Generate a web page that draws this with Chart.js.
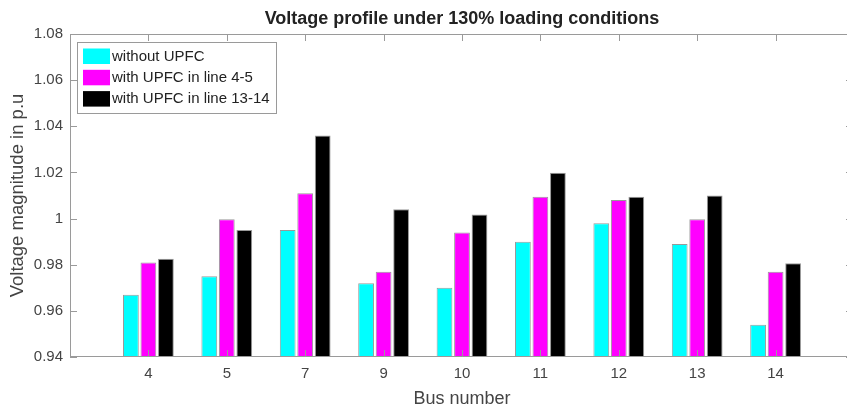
<!DOCTYPE html>
<html>
<head>
<meta charset="utf-8">
<script src="https://cdn.jsdelivr.net/npm/chart.js@4"></script>
<style>
  html, body { margin: 0; padding: 0; background: #fff; overflow: hidden; }
  /* the source figure is cropped a few px short of the right axis line */
  #wrap { width: 847px; height: 410px; overflow: hidden; }
</style>
</head>
<body>
<div id="wrap"><canvas id="voltageChart" width="855" height="410"></canvas></div>
<script>
const buses = ['4', '5', '7', '9', '10', '11', '12', '13', '14'];
const withoutUpfc = [0.967, 0.975, 0.995, 0.972, 0.970, 0.990, 0.998, 0.989, 0.954];
const upfcLine45 = [0.981, 0.9997, 1.011, 0.977, 0.994, 1.0095, 1.008, 0.9997, 0.977];
const upfcLine1314 = [0.9826, 0.995, 1.036, 1.004, 1.0018, 1.0199, 1.0095, 1.010, 0.9806];
const yTicks = [0.94, 0.96, 0.98, 1, 1.02, 1.04, 1.06, 1.08];

// pad one empty slot each side so the axis runs half a group past the ends (like xlim [0 10])
const pad = arr => [null, ...arr, null];
const labels = ['', ...buses, ''];

const fontFamily = '"Liberation Sans", Arial, sans-serif';
const frameColor = '#9a9a9a';
const textColor = '#444';

// frame + inward ticks on all four sides, MATLAB style
const framePlugin = {
    id: 'frame',
    afterDatasetsDraw(chart) {
        const { ctx, chartArea: a, scales } = chart;
        ctx.save();
        ctx.strokeStyle = frameColor;
        ctx.lineWidth = 1;
        ctx.strokeRect(a.left + 0.5, a.top + 0.5, a.right - a.left - 1, a.bottom - a.top - 1);
        ctx.beginPath();
        yTicks.forEach(v => {
            const y = Math.round(scales.y.getPixelForValue(v)) + 0.5;
            ctx.moveTo(a.left, y); ctx.lineTo(a.left + 7, y);
            ctx.moveTo(a.right, y); ctx.lineTo(a.right - 8, y);
        });
        buses.forEach((b, i) => {
            const x = Math.round(scales.x.getPixelForValue(i + 1)) + 0.5;
            ctx.moveTo(x, a.top); ctx.lineTo(x, a.top + 7);
            ctx.moveTo(x, a.bottom); ctx.lineTo(x, a.bottom - 7);
        });
        ctx.stroke();
        ctx.restore();
    }
};

// boxed legend in the top-left corner of the plot
const boxLegendPlugin = {
    id: 'boxLegend',
    afterDraw(chart) {
        const { ctx, chartArea: a } = chart;
        const x0 = a.left + 7, y0 = a.top + 8, w = 199, h = 71;
        ctx.save();
        ctx.fillStyle = '#fff';
        ctx.fillRect(x0, y0, w, h);
        ctx.strokeStyle = frameColor;
        ctx.lineWidth = 1;
        ctx.strokeRect(x0 + 0.5, y0 + 0.5, w, h);
        ctx.font = '15px ' + fontFamily;
        ctx.textBaseline = 'middle';
        chart.data.datasets.forEach((ds, i) => {
            const cy = y0 + 14 + i * 21.3;
            ctx.fillStyle = ds.backgroundColor;
            ctx.fillRect(x0 + 6, cy - 7.5, 27, 15.5);
            ctx.fillStyle = '#222';
            ctx.fillText(ds.label, x0 + 35, cy + 0.5);
        });
        ctx.restore();
    }
};

const ctx = document.getElementById('voltageChart').getContext('2d');
new Chart(ctx, {
    type: 'bar',
    data: {
        labels: labels,
        datasets: [
            { label: 'without UPFC', data: pad(withoutUpfc), backgroundColor: '#00ffff' },
            { label: 'with UPFC in line 4-5', data: pad(upfcLine45), backgroundColor: '#ff00ff' },
            { label: 'with UPFC in line 13-14', data: pad(upfcLine1314), backgroundColor: '#000000' }
        ].map(ds => Object.assign(ds, {
            borderColor: 'rgba(0, 0, 0, 0.4)',
            borderWidth: 1,
            barPercentage: 0.9,
            categoryPercentage: 0.67
        }))
    },
    options: {
        responsive: false,
        animation: false,
        layout: { padding: { left: 0, right: 1, top: 0, bottom: 0 } },
        plugins: {
            legend: { display: false },
            tooltip: { enabled: false },
            title: {
                display: true,
                fullSize: false,
                text: 'Voltage profile under 130% loading conditions',
                color: '#222',
                font: { family: fontFamily, size: 18, weight: 'bold' },
                padding: { top: 8, bottom: 4.4 }
            }
        },
        scales: {
            x: {
                offset: false,
                grid: { display: false, drawTicks: false },
                border: { display: false },
                ticks: {
                    color: textColor,
                    font: { family: fontFamily, size: 15 },
                    padding: 8,
                    autoSkip: false,
                    maxRotation: 0
                },
                title: {
                    display: true,
                    text: 'Bus number',
                    color: textColor,
                    font: { family: fontFamily, size: 18 },
                    padding: { top: 0, bottom: 0 }
                },
                afterFit(scale) {
                    scale.height = 53;
                    scale.paddingLeft = 0;
                    scale.paddingRight = 0;
                }
            },
            y: {
                min: 0.94,
                max: 1.08,
                grid: { display: false, drawTicks: false },
                border: { display: false },
                ticks: {
                    stepSize: 0.02,
                    color: textColor,
                    font: { family: fontFamily, size: 15 },
                    padding: 7,
                    callback: value => String(Number(value.toFixed(2)))
                },
                title: {
                    display: true,
                    text: 'Voltage magnitude in p.u',
                    color: textColor,
                    font: { family: fontFamily, size: 18.5 },
                    padding: { top: 7, bottom: 0 }
                },
                afterFit(scale) { scale.width = 70; }
            }
        }
    },
    plugins: [framePlugin, boxLegendPlugin]
});
</script>
</body>
</html>
